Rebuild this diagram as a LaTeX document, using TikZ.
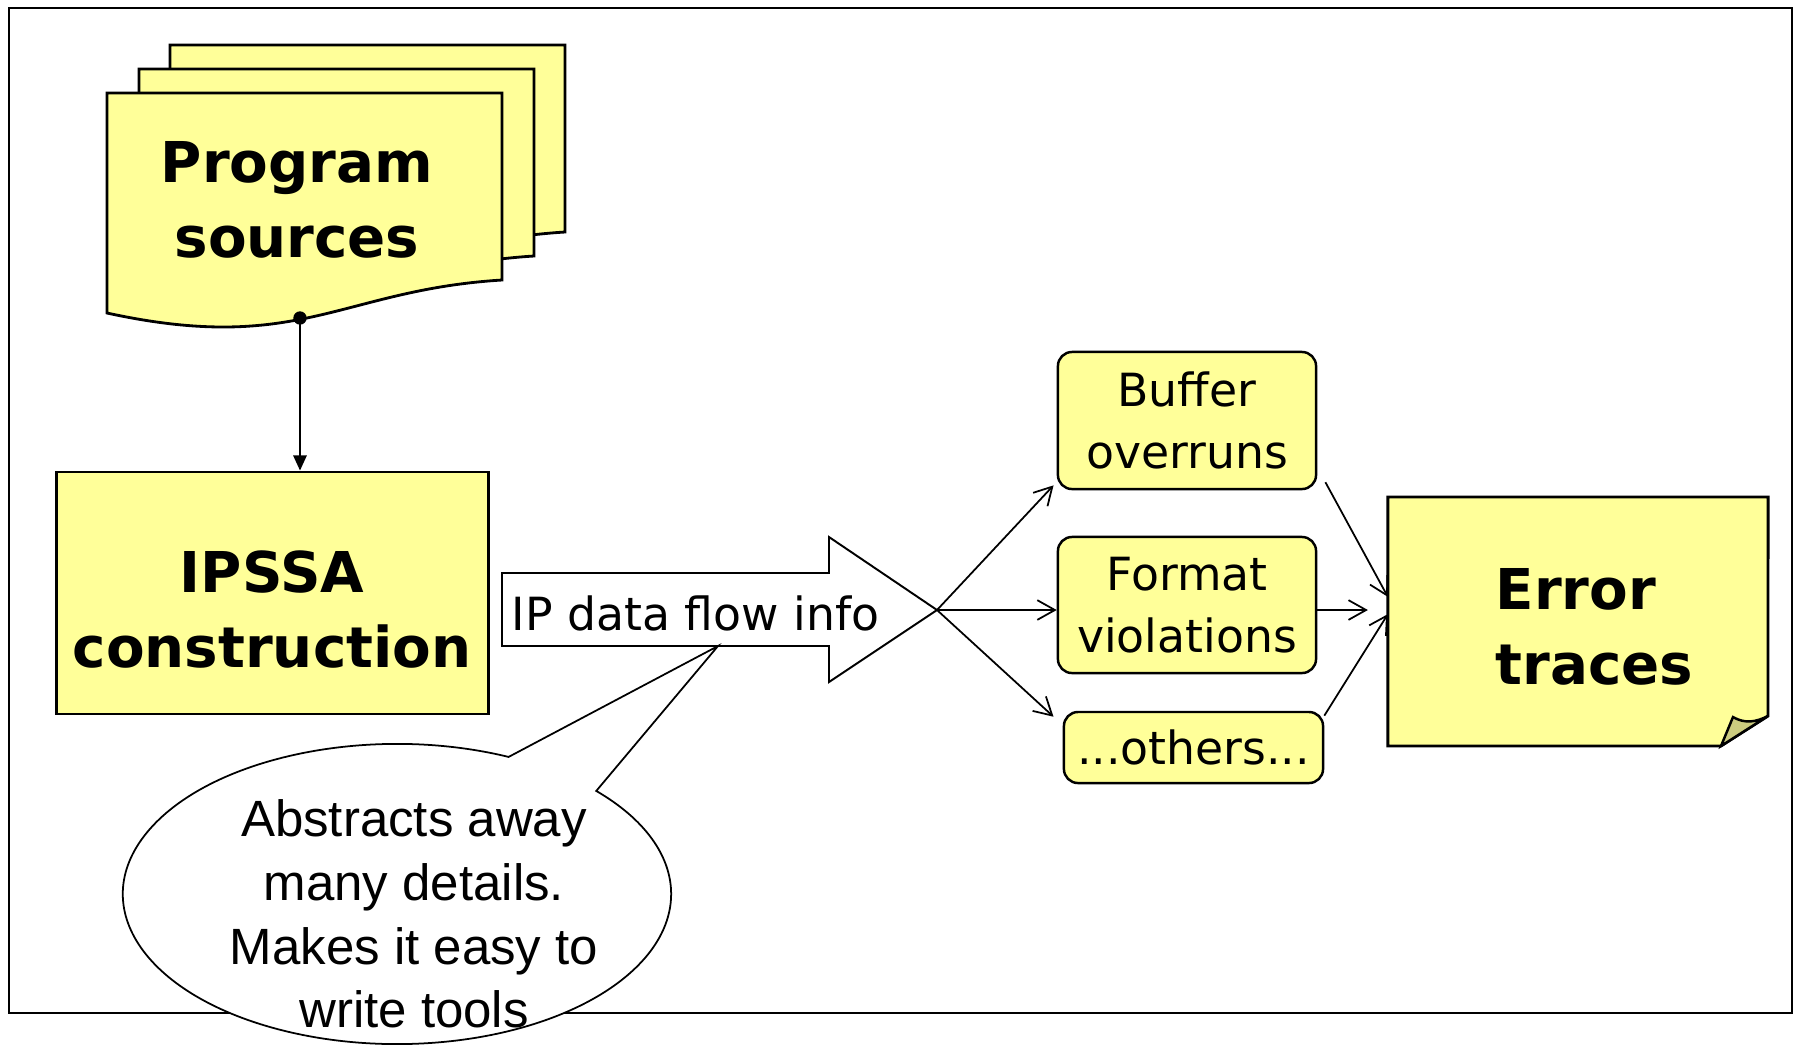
\documentclass[tikz,border=0pt]{standalone}
\usepackage{fontspec}
\setmainfont{DejaVu Sans}
\newfontfamily\calloutfont{Liberation Sans}
\usepackage{xcolor}
\usetikzlibrary{arrows.meta,shapes.callouts}
\definecolor{noteyellow}{RGB}{255,255,153}
\definecolor{notefold}{RGB}{204,204,128}
\newcommand{\hdfont}{\fontsize{16}{21.3}\selectfont\bfseries}
\newcommand{\bxfont}{\fontsize{13}{17.6}\selectfont}
\newcommand{\clfont}{\calloutfont\fontsize{14.5}{18.1}\selectfont}

\begin{document}
\begin{tikzpicture}[x=0.01cm, y=-0.01cm,
    page/.style={draw, line width=0.8pt, fill=noteyellow},
    block/.style={rectangle, page, inner sep=0pt},
    issue/.style={rectangle, draw, line width=0.7pt, fill=noteyellow, rounded corners=4pt,
        minimum width=2.58cm, align=center, font=\bxfont},
    label/.style={inner sep=0pt, font=\hdfont},
    arrow/.style={-{Straight Barb[length=5pt,width=5.6pt]}, line width=0.5pt}]

    \useasboundingbox (0,0) rectangle (1796,1044);

    % Frame
    \draw[line width=0.6pt] (9,8) rectangle (1792,1013);

    % Program sources (three stacked pages)
    \foreach \dx/\dy in {63/-48, 32/-24, 0/0}
        \draw[page, shift={(\dx,\dy)}] (107,93) -- (502,93) -- (502,280)
            .. controls (340,290) and (300,355) .. (107,313) -- cycle;
    \node[label, align=center] (sources) at (297,200) {Program\\sources};

    % IPSSA construction
    \node[block, minimum width=4.31cm, minimum height=2.42cm] (ipssa) at (272.5,593) {};
    \node[label, align=center] (ipssalbl) at (272,609.5) {IPSSA\\construction};

    \coordinate (srcdot) at (300,318);
    \fill (srcdot) circle (1.9pt);
    \draw[-{Triangle[length=4.3pt,width=3.8pt]}, line width=0.5pt] (srcdot) -- (srcdot |- ipssa.north);

    % IP data flow info (big arrow)
    \draw[fill=white, line width=0.55pt] (502,573) -- (829,573) -- (829,537) -- (937,610)
        -- (829,682) -- (829,646) -- (502,646) -- cycle;
    \coordinate (tip) at (937,610);
    \node[anchor=base west, inner sep=0pt, font=\bxfont] (flow) at (511,630) {IP data flow info};

    % Error kinds
    \node[issue, minimum height=1.37cm] (buffer) at (1187,420.5) {Buffer\\overruns};
    \node[issue, minimum height=1.36cm] (format) at (1187,605) {Format\\violations};
    \node[issue, minimum height=0.71cm, minimum width=2.59cm] (others) at (1193.5,747.5) {...others...};

    % Error traces (note with folded corner)
    \node[minimum width=3.8cm, minimum height=2.49cm, inner sep=0pt, outer sep=0pt] (traces) at (1578,621.5) {};
    \draw[page] (traces.north west) -- (traces.north east) -- (1768,716) -- (1721,746)
        -- (traces.south west) -- cycle;
    \draw[fill=notefold, line width=0.7pt] (1721,746) -- (1733,717)
        .. controls (1745,724) and (1756,722) .. (1768,716) -- cycle;
    \node[label, align=left, anchor=west] (traceslbl) at (1495,627) {Error\\traces};

    % Arrows
    \draw[arrow] (tip) -- ([xshift=-0.9pt,yshift=1.4pt]buffer.south west);
    \draw[arrow] (tip) -- (tip -| format.west);
    \draw[arrow] (tip) -- ([xshift=-2.6pt,yshift=-1.7pt]others.north west);

    \path (tip -| traces.west) ++(-20,0) coordinate (gap);
    \draw[arrow] ([xshift=2.3pt,yshift=2.3pt]buffer.south east) -- ([yshift=7pt]traces.west);
    \draw[arrow] (tip -| format.east) -- (gap);
    \draw[arrow] ([yshift=-1.4pt]others.north east) -- ([yshift=2.1pt]traces.west);

    % Callout
    \node[ellipse callout, draw, fill=white, line width=0.5pt, minimum width=5.48cm, minimum height=3cm,
        callout absolute pointer={(718,646)}, callout pointer arc=22.6] (bubble) at (397,894) {};
    \node[inner sep=0pt, align=center, font=\clfont] (bubbletxt) at (414,914)
        {Abstracts away\\many details.\\Makes it easy to\\write tools};

\end{tikzpicture}
\end{document}
